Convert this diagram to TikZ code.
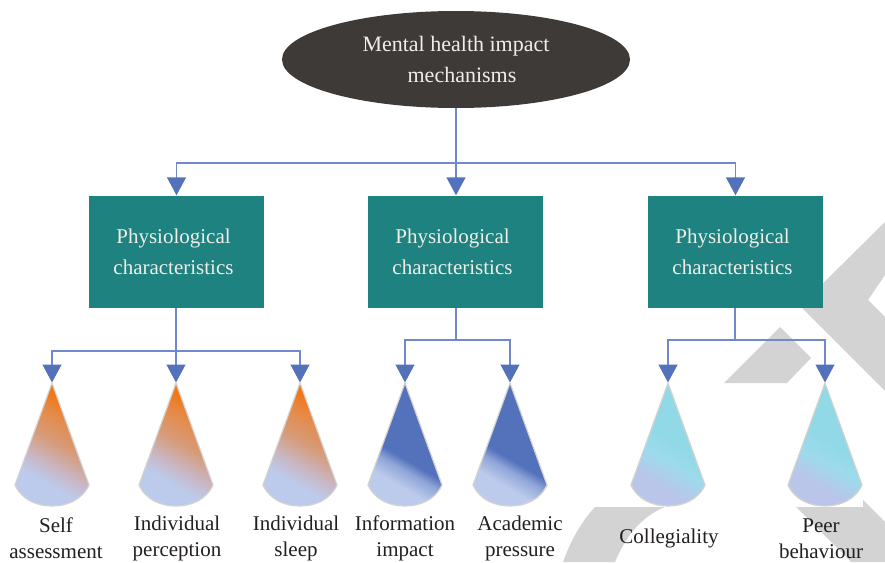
\documentclass[tikz,border=0pt]{standalone}
\usepackage{fontspec}
\setmainfont{Liberation Serif}
\usetikzlibrary{arrows.meta,shapes.geometric}
\definecolor{wmark}{HTML}{D3D3D3}
\definecolor{rootfill}{HTML}{3E3A37}
\definecolor{boxfill}{HTML}{1D8280}
\definecolor{linecol}{HTML}{7089CC}
\definecolor{tipcol}{HTML}{5472BC}
\definecolor{lighttext}{HTML}{F1EEE8}
\definecolor{labeltext}{HTML}{231F20}
\definecolor{conelight}{HTML}{BCCBEB}
\definecolor{coneorange}{HTML}{F07818}
\definecolor{conemidA}{HTML}{D69B78}
\definecolor{conemidB}{HTML}{C8B8C8}
\definecolor{conemidC}{HTML}{E68A48}
\definecolor{conemidD}{HTML}{8FA5D8}
\definecolor{coneblue}{HTML}{5472BC}
\definecolor{conecyan}{HTML}{92D9E8}
\definecolor{conecyanB}{HTML}{9CDBEB}
\definecolor{conelav}{HTML}{B9C6EA}
\definecolor{coneedge}{HTML}{D4D2D0}
\pgfdeclareverticalshading{orangecone}{200bp}{color(0bp)=(conelight);color(64bp)=(conelight);color(80bp)=(conemidB);color(104bp)=(conemidA);color(128bp)=(conemidC);color(144bp)=(coneorange);color(200bp)=(coneorange)}
\pgfdeclareverticalshading{bluecone}{200bp}{color(0bp)=(conelight);color(62bp)=(conelight);color(78bp)=(conemidD);color(88bp)=(coneblue);color(200bp)=(coneblue)}
\pgfdeclareverticalshading{cyancone}{200bp}{color(0bp)=(conelav);color(62bp)=(conelav);color(86bp)=(conecyanB);color(104bp)=(conecyan);color(200bp)=(conecyan)}
\tikzset{
  rootnode/.style={ellipse,fill=rootfill,text=lighttext,minimum width=348pt,minimum height=97pt,inner sep=0pt,align=center,font=\fontsize{22}{31}\selectfont},
  charbox/.style={rectangle,fill=boxfill,text=lighttext,minimum width=175pt,minimum height=112pt,inner sep=0pt,align=center,font=\fontsize{21}{31}\selectfont},
  leaflabel/.style={text=labeltext,inner sep=0pt,align=center,font=\fontsize{21}{26}\selectfont},
  trunk/.style={draw=linecol,line width=1.4pt},
  arrowline/.style={draw=linecol,line width=1.4pt,-{Triangle[width=19pt,length=18pt,color=tipcol]},shorten >=0.5pt},
  conerim/.style={draw=coneedge,line width=1.2pt,line join=round},
  shadeholder/.style={inner sep=0pt,outer sep=0pt,rotate=-30}
}
\newcommand{\conepathat}[1]{(#1,383) -- (#1+37,485) .. controls (#1+30,500) and (#1+15,506) .. (#1,506) .. controls (#1-15,506) and (#1-30,500) .. (#1-37,485) -- cycle}
\newcommand{\drawcone}[3]{%
  \begin{scope}
    \clip \conepathat{#2};
    \node[shadeholder] (#1shade) at (#2,445) {\pgfuseshading{#3}};
  \end{scope}
  \draw[conerim] \conepathat{#2};
  \coordinate (#1) at (#2,383);
}
\begin{document}
\begin{tikzpicture}[x=1pt,y=-1pt]
\path[use as bounding box] (0,0) rectangle (885,562);
% watermark
\fill[wmark] (885,222) -- (800,306) -- (885,391) -- (885,317) -- (868,300) -- (885,275) -- cycle;
\fill[wmark] (780,327) -- (811,358) -- (787,383) -- (724,383) -- cycle;
\fill[wmark] (595,507) -- (665,507) .. controls (640,517) and (625,538) .. (615,562) -- (563,562) .. controls (570,542) and (581,522) .. (595,507) -- cycle;
\fill[wmark] (796,507) -- (863,507) -- (863,500) -- (885,522) -- (885,562) -- (851,562) -- cycle;
% nodes
\node[rootnode] (root) at (456,59.5) {\raisebox{-1.5pt}{Mental health impact}\\\hspace*{12pt}\raisebox{-1.5pt}{mechanisms}};
\node[charbox] (boxA) at (176.5,252) {\raisebox{-1pt}{Physiological}\hspace*{6pt}\\\raisebox{-1pt}{characteristics}\hspace*{6pt}};
\node[charbox] (boxB) at (455.5,252) {\raisebox{-1pt}{Physiological}\hspace*{6pt}\\\raisebox{-1pt}{characteristics}\hspace*{6pt}};
\node[charbox] (boxC) at (735.5,252) {\raisebox{-1pt}{Physiological}\hspace*{6pt}\\\raisebox{-1pt}{characteristics}\hspace*{6pt}};
% cones
\drawcone{coneA}{52}{orangecone}
\drawcone{coneB}{176}{orangecone}
\drawcone{coneC}{300}{orangecone}
\drawcone{coneD}{405}{bluecone}
\drawcone{coneE}{510}{bluecone}
\drawcone{coneF}{668}{cyancone}
\drawcone{coneG}{825}{cyancone}
% labels
\node[leaflabel] (labA) at (56,538.5) {Self\\assessment};
\node[leaflabel] (labB) at (177,538.5) {Individual\\perception};
\node[leaflabel] (labC) at (296,538.5) {Individual\\sleep};
\node[leaflabel] (labD) at (405,538.5) {Information\\impact};
\node[leaflabel] (labE) at (520,538.5) {Academic\\pressure};
\node[leaflabel] (labF) at (669,538.5) {Collegiality};
\node[leaflabel] (labG) at (821,538.5) {Peer\\behaviour};
% bus points
\coordinate (busRoot) at (456,163);
\coordinate (busA) at (176,351);
\coordinate (busB) at (456,340);
\coordinate (busC) at (735,340);
% connectors
\draw[trunk] (root.south) -- (busRoot);
\draw[arrowline] (busRoot) -| (boxA.north);
\draw[arrowline] (busRoot) -- (boxB.north -| busRoot);
\draw[arrowline] (busRoot) -| (boxC.north);
\draw[trunk] (boxA.south -| busA) -- (busA);
\draw[arrowline] (busA) -| (coneA);
\draw[arrowline] (busA) -- (coneB);
\draw[arrowline] (busA) -| (coneC);
\draw[trunk] (boxB.south -| busB) -- (busB);
\draw[arrowline] (busB) -| (coneD);
\draw[arrowline] (busB) -| (coneE);
\draw[trunk] (boxC.south -| busC) -- (busC);
\draw[arrowline] (busC) -| (coneF);
\draw[arrowline] (busC) -| (coneG);
\end{tikzpicture}
\end{document}
